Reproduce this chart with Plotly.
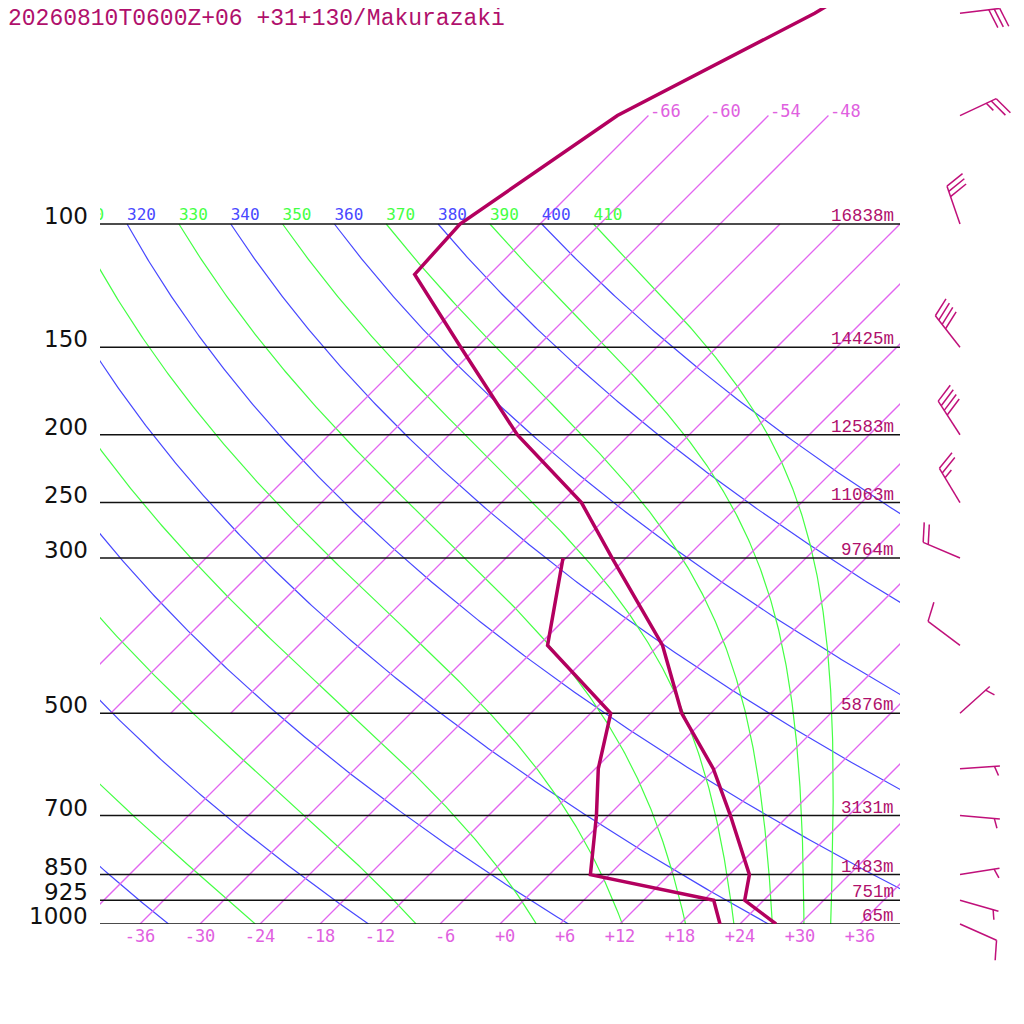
import numpy as np
import plotly.graph_objects as go

# sounding, Makurazaki
p_temp = [1000, 925, 850, 700, 600, 500, 400, 300, 250, 200, 150, 118, 100, 70, 50, 30]
temp = [27.6, 22.1, 20.0, 12.2, 5.8, -2.9, -11.6, -25.4, -34.0, -47.2, -61.6, -73.5, -74.0, -69.1, -59.6, -49.4]
p_dew = [1000, 925, 850, 700, 600, 500, 400, 300]
dew = [22.0, 19.0, 4.1, -1.2, -5.7, -10.0, -23.1, -30.3]

p_std = [1000, 925, 850, 700, 500, 300, 250, 200, 150, 100]
hgt = [65, 751, 1483, 3131, 5876, 9764, 11063, 12583, 14425, 16838]

p_wind = [50, 70, 100, 150, 200, 250, 300, 400, 500, 600, 700, 850, 925, 1000]
wdir = [83, 65, 341, 322, 327, 329, 293, 307, 48, 86, 95, 81, 106, 114]
wspd = [30, 25, 30, 40, 40, 25, 20, 10, 5, 5, 5, 5, 5, 10]

iso_low = list(range(-42, 37, 6))      # drawn 1000 -> 100 hPa
iso_high = [-66, -60, -54, -48]        # drawn 500 -> 70 hPa
iso_ticks = list(range(-36, 37, 6))
theta_dry = list(range(240, 401, 20))
theta_moist = list(range(250, 411, 20))
theta_labels = list(range(310, 411, 10))

title = "20260810T0600Z+06 +31+130/Makurazaki"

TEMP_C = "#b3005f"
TXT_C = "#b0106c"
ISO_C = "#e266f0"
ISO_LBL = "#e060e0"
DRY_C = "#4848ff"
MOIST_C = "#44ff44"

DECADE = 700.0                          # px per decade of pressure
SKEW = DECADE / np.log(10) / 10.0       # 10 px per degC, 45 deg isotherms
RD, CPD, LV, EPS = 287.04, 1005.7, 2.501e6, 0.622
KAPPA = RD / CPD

# the page puts the figure 8 px in from the corner
PLOT_W = 1024 - 92
TOP_PX = 916        # 1000 hPa line, from top of figure
BAR_PX = 1024 - TOP_PX


def skew_x(t, p):
    return np.asarray(t) + SKEW * np.log(1000.0 / np.asarray(p, dtype=float))


def dry_adiabat(theta, p):
    return theta * (p / 1000.0) ** KAPPA - 273.15


def moist_rate(t, p):
    es = 6.112 * np.exp(17.67 * (t - 273.15) / (t - 29.65))
    rs = EPS * es / (p - es)
    return (RD * t + LV * rs) / (CPD + LV * LV * rs * EPS / (RD * t * t))


def moist_adiabat(theta, p):
    # integrate pseudo-adiabat downward from 100 hPa
    lnp = np.log(p)
    t = theta * 0.1 ** KAPPA
    out = [t]
    for i in range(1, len(p)):
        h = lnp[i] - lnp[i - 1]
        pa, pm, pb = p[i - 1], np.exp(lnp[i - 1] + h / 2), p[i]
        k1 = moist_rate(t, pa)
        k2 = moist_rate(t + h * k1 / 2, pm)
        k3 = moist_rate(t + h * k2 / 2, pm)
        k4 = moist_rate(t + h * k3, pb)
        t = t + h * (k1 + 2 * k2 + 2 * k3 + k4) / 6
        out.append(t)
    return np.array(out) - 273.15


def barb(p0, wd, ws, x0=60.0, staff=40.0, gap=5.5, full=20.0):
    a = np.radians(wd)
    u = np.array([np.sin(a), -np.cos(a)])
    r = np.radians(70)
    f = np.array([u[0] * np.cos(r) - u[1] * np.sin(r), u[0] * np.sin(r) + u[1] * np.cos(r)])
    segs = [(np.zeros(2), staff * u)]
    n10, n5 = divmod(ws, 10)
    for i in range(n10):
        s = (staff - i * gap) * u
        segs.append((s, s + full * f))
    if n5 >= 5:
        s = (staff - max(n10, 1) * gap) * u
        segs.append((s, s + full / 2 * f))
    xs, ps = [], []
    for a0, a1 in segs:
        for pt in (a0, a1):
            xs.append(float(x0 + pt[0]))
            ps.append(float(p0 * 10 ** (pt[1] / DECADE)))
        xs.append(None)
        ps.append(None)
    return xs, ps


fig = go.Figure()
pp = np.geomspace(100, 1000, 300)

for th in theta_dry:
    fig.add_trace(go.Scatter(x=skew_x(dry_adiabat(th, pp), pp), y=pp, mode="lines",
                             line=dict(color=DRY_C, width=1.2), hoverinfo="skip"))
for th in theta_moist:
    fig.add_trace(go.Scatter(x=skew_x(moist_adiabat(th, pp), pp), y=pp, mode="lines",
                             line=dict(color=MOIST_C, width=1.2), hoverinfo="skip"))

for t in iso_low:
    fig.add_trace(go.Scatter(x=skew_x([t, t], [1000, 100]), y=[1000, 100], mode="lines",
                             line=dict(color=ISO_C, width=1.3), hoverinfo="skip"))
for t in iso_high:
    fig.add_trace(go.Scatter(x=skew_x([t, t], [500, 70]), y=[500, 70], mode="lines",
                             line=dict(color=ISO_C, width=1.3), hoverinfo="skip"))

for p in p_std:
    fig.add_trace(go.Scatter(x=[-40, 40], y=[p, p], mode="lines",
                             line=dict(color="#111111", width=1.5), hoverinfo="skip"))

# theta labels along 100 hPa, clipped by the plot frame
lab_x = skew_x(dry_adiabat(np.array(theta_labels, dtype=float), 100.0), [100] * len(theta_labels))
fig.add_trace(go.Scatter(
    x=lab_x, y=[100] * len(theta_labels), mode="text", text=[str(v) for v in theta_labels],
    textposition="top right", cliponaxis=True,
    textfont=dict(family="DejaVu Sans Mono", size=16,
                  color=[DRY_C if v in theta_dry else MOIST_C for v in theta_labels]),
    hoverinfo="skip"))

fig.add_trace(go.Scatter(x=skew_x(dew, p_dew), y=p_dew, mode="lines",
                         line=dict(color=TEMP_C, width=3.5), hoverinfo="skip"))
fig.add_trace(go.Scatter(x=skew_x(temp, p_temp), y=p_temp, mode="lines",
                         line=dict(color=TEMP_C, width=3.5), hoverinfo="skip"))

bx, bp = [], []
for p, d, s in zip(p_wind, wdir, wspd):
    xs, ps = barb(p, d, s)
    bx += xs
    bp += ps
fig.add_trace(go.Scatter(x=bx, y=bp, mode="lines", xaxis="x2", yaxis="y2",
                         line=dict(color="#c0107a", width=1.5), hoverinfo="skip"))

ann = []
for p in p_std:
    ann.append(dict(x=-10 / PLOT_W, xref="paper", y=np.log10(p), yref="y", text=str(p),
                    xanchor="right", yanchor="middle", yshift=8, showarrow=False,
                    font=dict(family="DejaVu Sans", size=23, color="#111111")))
for p, h in zip(p_std, hgt):
    ann.append(dict(x=40, xref="x", y=np.log10(p), yref="y", text=f"{h}m",
                    xanchor="right", yanchor="middle", xshift=-4, yshift=8, showarrow=False,
                    font=dict(family="Liberation Mono", size=17.5, color=TXT_C)))
for t in iso_high:
    ann.append(dict(x=float(skew_x(t, 70)), xref="x", y=np.log10(70), yref="y", text=str(t),
                    xanchor="left", yanchor="middle", yshift=5, showarrow=False,
                    font=dict(family="DejaVu Sans Mono", size=17, color=ISO_LBL)))

tick_text = [(f"{v:+d}" if v != 0 else "+0").rjust(3, "\u00a0") for v in iso_ticks]

fig.update_layout(
    width=1024, height=1024,
    margin=dict(l=92, r=0, t=0, b=0),
    plot_bgcolor="white", paper_bgcolor="white",
    showlegend=False,
    title=dict(text=title, x=0, xanchor="left", xref="container",
               y=1 - 9 / 1024, yanchor="middle", yref="container",
               font=dict(family="Liberation Mono", size=23, color=TXT_C)),
    xaxis=dict(domain=[0, 800 / PLOT_W], range=[-40, 40], anchor="y",
               tickvals=iso_ticks, ticktext=tick_text, ticks="", showgrid=False,
               zeroline=False, showline=False,
               tickfont=dict(family="DejaVu Sans Mono", size=17, color=ISO_LBL)),
    yaxis=dict(domain=[BAR_PX / 1024, 1], type="log", range=[3, 3 - TOP_PX / DECADE],
               showgrid=False, zeroline=False, showline=False, showticklabels=False),
    xaxis2=dict(domain=[800 / PLOT_W, 1], range=[0, PLOT_W - 800], anchor="y2", visible=False),
    yaxis2=dict(domain=[0, 1], type="log", range=[3 + BAR_PX / DECADE, 3 - TOP_PX / DECADE],
                anchor="x2", visible=False),
    annotations=ann,
)

fig.write_html("out.html")
